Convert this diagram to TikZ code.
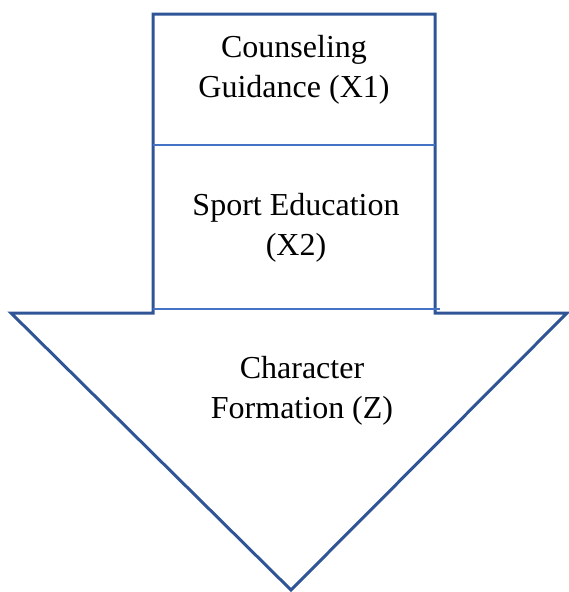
\documentclass[tikz,border=0pt]{standalone}
\usepackage{fontspec}
\setmainfont{Liberation Serif}
\definecolor{outl}{HTML}{2F5597}
\definecolor{divl}{HTML}{4472C4}
\begin{document}
\begin{tikzpicture}[x=1pt,y=-1pt,
  outline/.style={draw=outl,line width=3pt,line join=miter},
  divider/.style={draw=divl,line width=1.3pt},
  lbl/.style={align=center,font=\fontsize{32}{40}\selectfont,inner sep=0pt,anchor=base}]
\useasboundingbox (0,0) rectangle (569,592);
\coordinate (tl) at (153,14);
\coordinate (tr) at (435,14);
\coordinate (sr) at (435,313);
\coordinate (ar) at (567,313);
\coordinate (tip) at (291,590);
\coordinate (al) at (11,313);
\coordinate (sl) at (153,313);
\draw[outline] (sl) -- (tl) -- (tr) -- (sr) -- (ar) -- (tip) -- (al) -- cycle;
\coordinate (d1l) at (153,145);
\coordinate (d1r) at (435,145);
\coordinate (d2l) at (153,309);
\coordinate (d2r) at (440,309);
\draw[divider] (d1l) -- (d1r);
\draw[divider] (d2l) -- (d2r);
\node[lbl] (x1) at (294,97) {Counseling\\Guidance (X1)};
\node[lbl] (x2) at (296,255) {Sport Education\\(X2)};
\node[lbl] (z) at (302,418) {Character\\Formation (Z)};
\end{tikzpicture}
\end{document}
